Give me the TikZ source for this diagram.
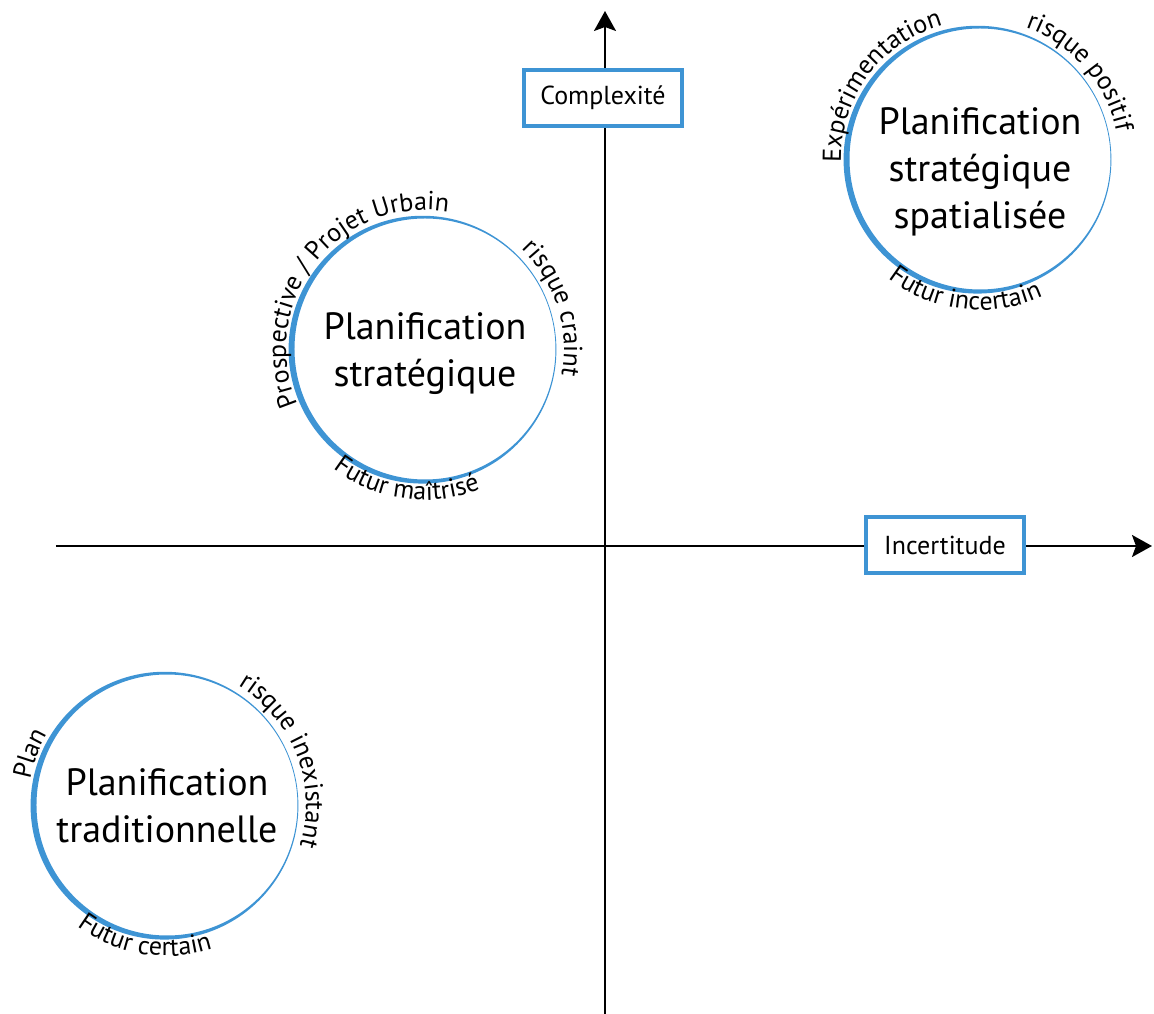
\documentclass[tikz,border=0pt]{standalone}
\usepackage{fontspec}
\setmainfont{PT Sans}
\usetikzlibrary{arrows.meta, decorations.text}

\definecolor{planblue}{RGB}{62,148,212}
\newcommand{\bigfont}{\fontsize{38}{47}\selectfont}
\newcommand{\boxfont}{\fontsize{26}{30}\selectfont}
\newcommand{\labelfont}{\fontsize{26}{30}\selectfont}

% text on the outside of a circle, read clockwise
\newcommand{\toplabel}[3]{%
  \path[decorate, decoration={text along path, text align=center, text={|\labelfont|#3}}]
    (#1.center) ++(#2+90:139) arc[start angle=#2+90, end angle=#2-90, radius=139];}
% text under a circle, letters pointing inward
\newcommand{\botlabel}[3]{%
  \path[decorate, decoration={text along path, text align=center, text={|\labelfont|#3}}]
    (#1.center) ++(#2-90:151) arc[start angle=#2-90, end angle=#2+90, radius=151];}

\tikzset{
  axis/.style={line width=2pt, -{Stealth[length=20pt, width=22pt, inset=4pt]}},
  axisbox/.style={draw=planblue, line width=4pt, fill=white, minimum width=158pt,
    minimum height=56pt, inner sep=0pt, font=\boxfont},
  plancircle/.style={circle, minimum size=262pt, inner sep=0pt},
  plantext/.style={align=center, font=\bigfont}
}

\begin{document}
\begin{tikzpicture}[x=1pt, y=1pt]
  \useasboundingbox (-605,-468) rectangle (549,546);

  % axes
  \coordinate (xstart) at (-549,0);
  \coordinate (xend) at (547,0);
  \coordinate (ystart) at (0,-470);
  \coordinate (yend) at (0,535);
  \draw[axis] (xstart) -- (xend);
  \draw[axis] (ystart) -- (yend);

  \node[axisbox] (complex) at (-2,448) {Complexité};
  \node[axisbox] (incert) at (340,1) {Incertitude};

  % the three kinds of planning
  \node[plancircle] (trad) at (-438,-259) {};
  \node[plancircle] (strat) at (-180,197) {};
  \node[plancircle] (spat) at (375,387) {};

  \node[plantext] (tradtext) at ([yshift=-1pt]trad.center) {Planification\\traditionnelle};
  \node[plantext] (strattext) at ([yshift=-5pt]strat.center) {Planification\\stratégique};
  \node[plantext] (spattext) at ([yshift=-13pt]spat.center) {Planification\\stratégique\\spatialisée};

  \foreach \c in {trad, strat, spat}
    \fill[planblue, even odd rule] (\c.center) ++(195:2.6) circle[radius=133.9]
      (\c.center) circle[radius=130.5];

  \toplabel{trad}{159.5}{Plan}
  \toplabel{trad}{21}{risque inexistant}
  \botlabel{trad}{260.5}{Futur certain}

  \toplabel{strat}{142}{Prospective / Projet Urbain}
  \toplabel{strat}{17.5}{risque craint}
  \botlabel{strat}{262}{Futur maîtrisé}

  \toplabel{spat}{143.5}{Expérimentation}
  \toplabel{spat}{41}{risque positif}
  \botlabel{spat}{263.5}{Futur incertain}
\end{tikzpicture}
\end{document}
